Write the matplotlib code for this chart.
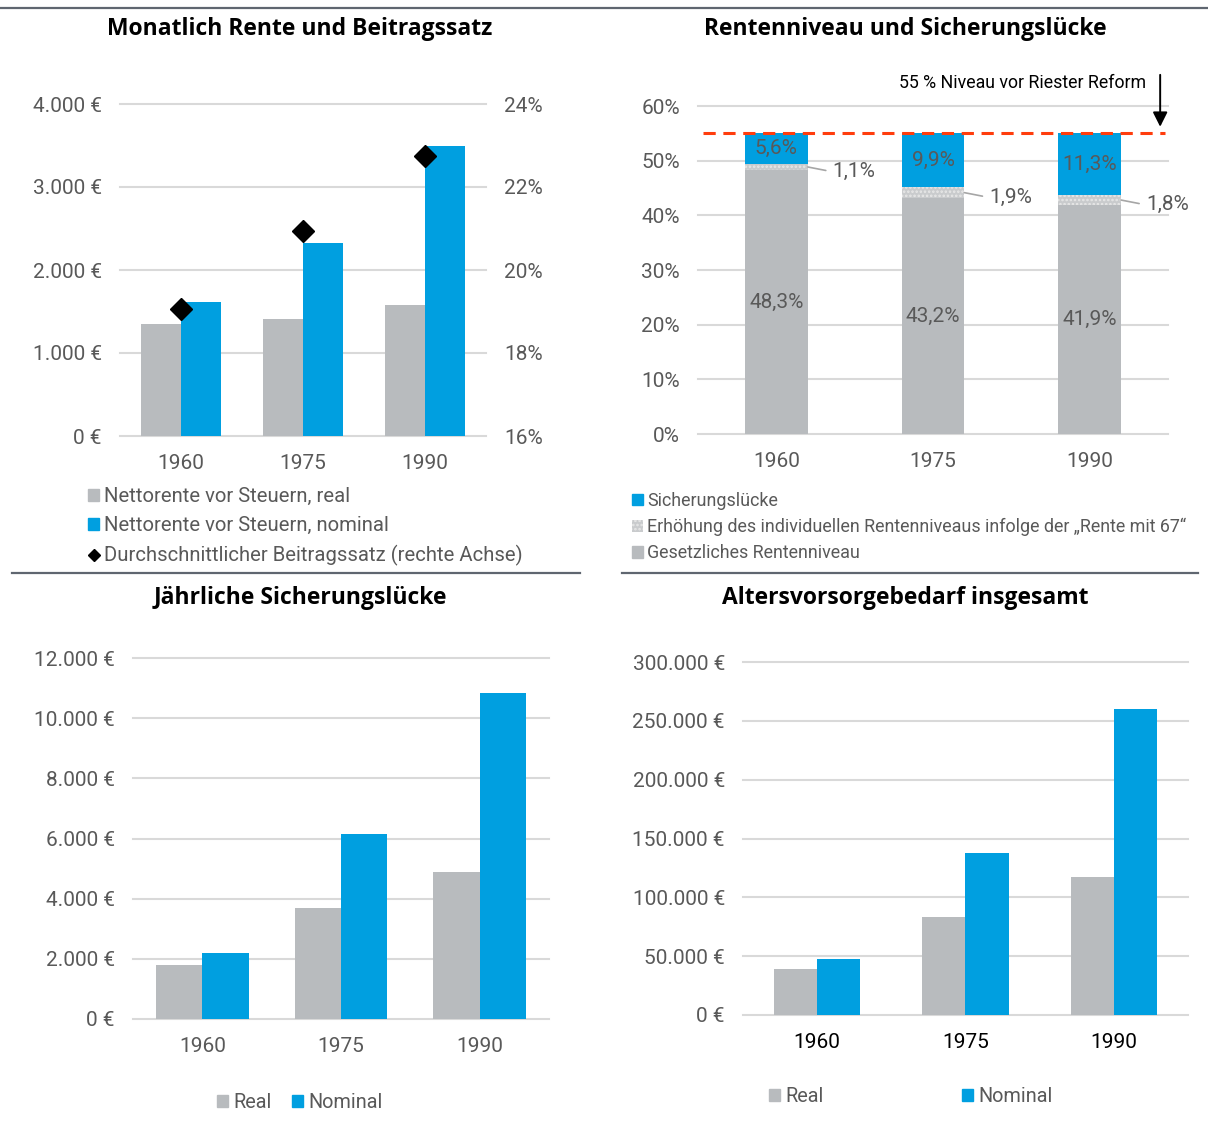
import matplotlib
matplotlib.use('Agg')
import matplotlib.pyplot as plt
from matplotlib.patches import Patch
from matplotlib.lines import Line2D
import numpy as np

plt.rcParams['font.family'] = ['Roboto', 'DejaVu Sans']
plt.rcParams['hatch.linewidth'] = 1.2

GRAY = '#b8bbbe'
BLUE = '#009fe0'
DOTS = '#c9cbcd'
DOT_HATCH = '#e8e8e8'
TXT = '#595959'
GRID = '#d9d9d9'
SEP = '#5f6670'

years = ['1960', '1975', '1990']

# Monatliche Rente (EUR) und Beitragssatz (%)
rente_real = [1350, 1410, 1580]
rente_nominal = [1615, 2330, 3500]
beitragssatz = [19.05, 20.95, 22.75]

# Rentenniveau (%)
gesetzlich = [48.3, 43.2, 41.9]
rente67 = [1.1, 1.9, 1.8]
luecke = [5.6, 9.9, 11.3]
niveau_vor_riester = 55

# jaehrliche Sicherungsluecke (EUR)
luecke_real = [1800, 3700, 4900]
luecke_nominal = [2200, 6150, 10850]

# Altersvorsorgebedarf (EUR)
bedarf_real = [39000, 83500, 117000]
bedarf_nominal = [48000, 137500, 260000]

W, H = 1208, 1135
fig = plt.figure(figsize=(W / 100, H / 100), dpi=100)


def px_box(l, t, r, b):
    return [l / W, 1 - b / H, (r - l) / W, (b - t) / H]


def euro(v):
    return f'{int(v):,}'.replace(',', '.') + ' €'


def pct(v):
    return f'{v:.1f}'.replace('.', ',') + '%'


def style(ax, yticks, fmt, pad=13, xcolor=TXT):
    for s in ax.spines.values():
        s.set_visible(False)
    ax.set_xlim(-0.5, 2.5)
    ax.set_ylim(yticks[0], yticks[-1])
    ax.set_yticks(yticks)
    ax.set_yticklabels([fmt(v) for v in yticks])
    ax.set_xticks(range(len(years)))
    ax.set_xticklabels(years)
    ax.yaxis.grid(True, color=GRID, lw=1.5)
    ax.set_axisbelow(True)
    for gl in ax.get_ygridlines():
        gl.set_clip_on(False)
    ax.tick_params(length=0, labelsize=15, labelcolor=TXT, pad=pad)
    ax.tick_params(axis='x', labelcolor=xcolor)


def title(x, y, s):
    fig.text(x / W, 1 - y / H, s, ha='center', va='center', fontsize=16.5,
             fontweight='bold', color='black',
             family=['Open Sans', 'DejaVu Sans'])


def sep(x0, x1, y):
    fig.add_artist(Line2D([x0 / W, x1 / W], [1 - y / H, 1 - y / H],
                          transform=fig.transFigure, color=SEP, lw=1.6))


x = np.arange(len(years))

# ── Chart 1: Monatlich Rente und Beitragssatz ──
ax1 = fig.add_axes(px_box(120, 104, 486, 436))
w = 0.33
ax1.bar(x - w / 2, rente_real, w, color=GRAY)
ax1.bar(x + w / 2, rente_nominal, w, color=BLUE)
style(ax1, [0, 1000, 2000, 3000, 4000], euro)
ax1b = ax1.twinx()
for s in ax1b.spines.values():
    s.set_visible(False)
ax1b.set_ylim(16, 24)
ax1b.set_yticks([16, 18, 20, 22, 24])
ax1b.set_yticklabels([f'{v}%' for v in [16, 18, 20, 22, 24]])
ax1b.tick_params(length=0, labelsize=15, labelcolor=TXT, pad=13)
ax1b.plot(x, beitragssatz, 'D', color='black', ms=11, ls='none', clip_on=False)
title(300, 29, 'Monatlich Rente und Beitragssatz')
fig.legend([Patch(color=GRAY), Patch(color=BLUE),
            Line2D([], [], marker='D', color='black', ls='none', ms=6)],
           ['Nettorente vor Steuern, real', 'Nettorente vor Steuern, nominal',
            'Durchschnittlicher Beitragssatz (rechte Achse)'],
           loc='upper left', bbox_to_anchor=(88 / W, 1 - 487 / H), frameon=False,
           fontsize=14.6, labelcolor=TXT, handlelength=0.55, handleheight=0.55,
           handletextpad=0.25, labelspacing=0.5, borderpad=0, borderaxespad=0)

# ── Chart 2: Rentenniveau und Sicherungslücke ──
ax2 = fig.add_axes(px_box(698, 106, 1168, 434))
w = 0.4
ax2.bar(x, gesetzlich, w, color=GRAY)
ax2.bar(x, rente67, w, bottom=gesetzlich, facecolor=DOTS, edgecolor=DOT_HATCH,
        hatch='....', lw=0)
bottom2 = np.array(gesetzlich) + np.array(rente67)
ax2.bar(x, luecke, w, bottom=bottom2, color=BLUE)
style(ax2, [0, 10, 20, 30, 40, 50, 60], lambda v: f'{v}%')
for i in range(len(years)):
    ax2.text(i, gesetzlich[i] / 2, pct(gesetzlich[i]), ha='center', va='center',
             fontsize=15, color=TXT)
    ax2.text(i, bottom2[i] + luecke[i] / 2, pct(luecke[i]), ha='center',
             va='center', fontsize=15, color=TXT)
    ax2.annotate(pct(rente67[i]), xy=(i + w / 2, gesetzlich[i] + rente67[i] / 2),
                 xytext=(18, -3.5), textcoords='offset points', ha='left',
                 va='center', fontsize=15, color=TXT,
                 arrowprops=dict(arrowstyle='-', color='#a6a6a6', lw=1.2,
                                 shrinkA=3, shrinkB=0, relpos=(0, 0.5)))
ax2.axhline(niveau_vor_riester, xmin=0.01, xmax=0.994, color='#ff3d0d', lw=2.2,
            dashes=(4, 2.5), zorder=5)
ax2.annotate('', xy=(2.45, 56.2), xytext=(2.45, 65.7), annotation_clip=False,
             arrowprops=dict(arrowstyle='-|>', color='black', lw=1.4,
                             mutation_scale=22, shrinkA=0, shrinkB=0))
ax2.text(2.36, 64.2, '55 % Niveau vor Riester Reform', ha='right', va='center',
         fontsize=12.8, color='black')
title(905, 29, 'Rentenniveau und Sicherungslücke')
fig.legend([Patch(color=BLUE),
            Patch(facecolor=DOTS, edgecolor=DOT_HATCH, hatch='....', lw=0),
            Patch(color=GRAY)],
           ['Sicherungslücke',
            'Erhöhung des individuellen Rentenniveaus infolge der „Rente mit 67“',
            'Gesetzliches Rentenniveau'],
           loc='upper left', bbox_to_anchor=(632 / W, 1 - 492 / H), frameon=False,
           fontsize=12.9, labelcolor=TXT, handlelength=0.6, handleheight=0.6,
           handletextpad=0.25, labelspacing=0.45, borderpad=0, borderaxespad=0)

# ── Chart 3: Jährliche Sicherungslücke ──
ax3 = fig.add_axes(px_box(133, 658, 549, 1019))
w = 0.335
ax3.bar(x - w / 2, luecke_real, w, color=GRAY)
ax3.bar(x + w / 2, luecke_nominal, w, color=BLUE)
style(ax3, [0, 2000, 4000, 6000, 8000, 10000, 12000], euro)
title(300, 598, 'Jährliche Sicherungslücke')
fig.legend([Patch(color=GRAY), Patch(color=BLUE)], ['Real', 'Nominal'],
           loc='upper left', bbox_to_anchor=(217 / W, 1 - 1093 / H), ncol=2,
           frameon=False, fontsize=14.3, labelcolor=TXT, handlelength=0.55,
           handleheight=0.55, handletextpad=0.25, columnspacing=1.05,
           borderpad=0, borderaxespad=0)

# ── Chart 4: Altersvorsorgebedarf insgesamt ──
ax4 = fig.add_axes(px_box(743, 662, 1188, 1015))
w = 0.29
ax4.bar(x - w / 2, bedarf_real, w, color=GRAY)
ax4.bar(x + w / 2, bedarf_nominal, w, color=BLUE)
style(ax4, [0, 50000, 100000, 150000, 200000, 250000, 300000], euro,
      xcolor='black')
title(905, 598, 'Altersvorsorgebedarf insgesamt')
fig.legend([Patch(color=GRAY), Patch(color=BLUE)], ['Real', 'Nominal'],
           loc='upper left', bbox_to_anchor=(769 / W, 1 - 1087 / H), ncol=2,
           frameon=False, fontsize=14.3, labelcolor=TXT, handlelength=0.55,
           handleheight=0.55, handletextpad=0.25, columnspacing=7.0,
           borderpad=0, borderaxespad=0)

# separators
sep(0, W, 8)
sep(12, 580, 573)
sep(622, 1198, 573)

fig.savefig('out.png', dpi=100, facecolor='white')
